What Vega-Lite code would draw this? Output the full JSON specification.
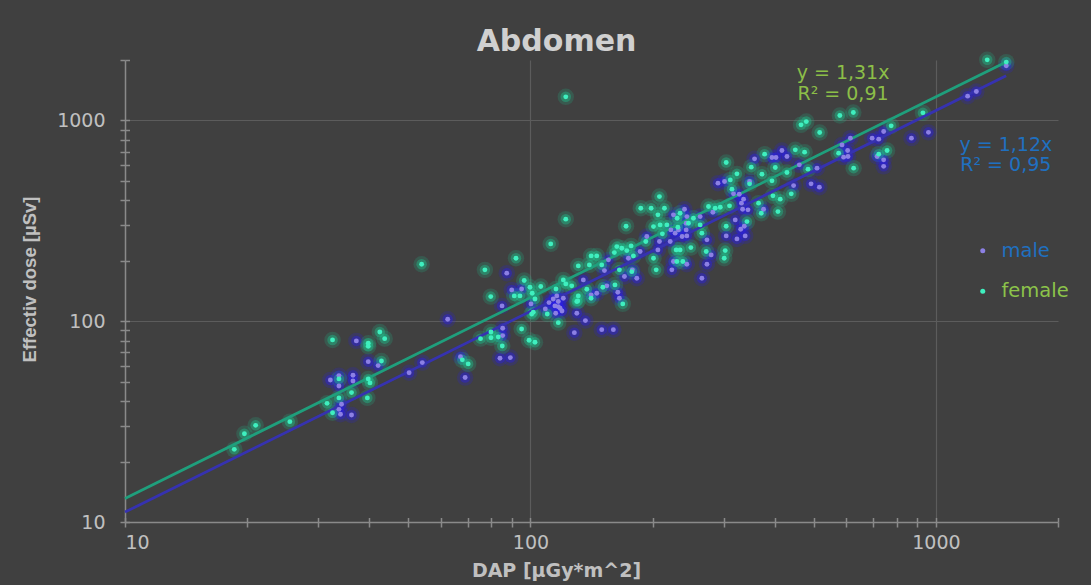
{
  "$schema": "https://vega.github.io/schema/vega-lite/v6.json",
  "width": 933,
  "height": 462,
  "autosize": "none",
  "padding": {"left": 125, "top": 60, "right": 33, "bottom": 63},
  "background": "#404040",
  "config": {"view": {"stroke": null}},
  "title": {"text": "Abdomen", "font": "DejaVu Sans", "fontSize": 30, "fontWeight": "bold", "color": "#d0d0d0", "anchor": "middle", "dx": -35, "dy": 37, "offset": 8, "baseline": "alphabetic"},
  "resolve": {"axis": {"x": "independent", "y": "independent"}},
  "datasets": {
    "points": [
      {"sex":"male","dap":37.2,"dose":79.8},{"sex":"male","dap":39.8,"dose":62.9},{"sex":"male","dap":42.1,"dose":60.1},{"sex":"male","dap":32.1,"dose":51},{"sex":"male","dap":33.7,"dose":53.6},{"sex":"male","dap":33.7,"dose":47.6},{"sex":"male","dap":36.5,"dose":53.8},{"sex":"male","dap":36.5,"dose":50.4},{"sex":"male","dap":34.2,"dose":38.6},{"sex":"male","dap":33.7,"dose":36.4},{"sex":"male","dap":34,"dose":34.4},{"sex":"male","dap":36.2,"dose":34.1},{"sex":"male","dap":50.2,"dose":55.4},{"sex":"male","dap":54.1,"dose":62.2},{"sex":"male","dap":62.5,"dose":102.3},{"sex":"male","dap":67.2,"dose":66.6},{"sex":"male","dap":69,"dose":52.4},{"sex":"male","dap":85.4,"dose":92.3},{"sex":"male","dap":85.4,"dose":84.8},{"sex":"male","dap":84.1,"dose":65.4},{"sex":"male","dap":89.2,"dose":65.9},{"sex":"male","dap":85.1,"dose":119.2},{"sex":"male","dap":100.3,"dose":122},{"sex":"male","dap":117.1,"dose":118.2},{"sex":"male","dap":130.1,"dose":109.6},{"sex":"male","dap":136.6,"dose":100.7},{"sex":"male","dap":128.3,"dose":87.7},{"sex":"male","dap":149.9,"dose":90.8},{"sex":"male","dap":160.1,"dose":90.8},{"sex":"male","dap":111.1,"dose":123.8},{"sex":"male","dap":114.9,"dose":119.2},{"sex":"male","dap":118.3,"dose":116.1},{"sex":"male","dap":115.4,"dose":109.6},{"sex":"male","dap":87.4,"dose":173.5},{"sex":"male","dap":89.9,"dose":143.2},{"sex":"male","dap":95.1,"dose":144.8},{"sex":"male","dap":116.1,"dose":133.7},{"sex":"male","dap":120.5,"dose":130.2},{"sex":"male","dap":135,"dose":160.6},{"sex":"male","dap":141.1,"dose":135.2},{"sex":"male","dap":145.7,"dose":137.9},{"sex":"male","dap":154.3,"dose":150},{"sex":"male","dap":164.2,"dose":139.5},{"sex":"male","dap":165.7,"dose":130.2},{"sex":"male","dap":152.2,"dose":178.7},{"sex":"male","dap":155.7,"dose":202.1},{"sex":"male","dap":174.4,"dose":206},{"sex":"male","dap":170.5,"dose":166.9},{"sex":"male","dap":178.4,"dose":180.2},{"sex":"male","dap":182.9,"dose":163.8},{"sex":"male","dap":186.4,"dose":222.3},{"sex":"male","dap":206.2,"dose":226.6},{"sex":"male","dap":223.2,"dose":180.2},{"sex":"male","dap":243,"dose":192.3},{"sex":"male","dap":264.7,"dose":163.8},{"sex":"male","dap":272.4,"dose":192.3},{"sex":"male","dap":279,"dose":214},{"sex":"male","dap":225.2,"dose":338.6},{"sex":"male","dap":239.8,"dose":361.4},{"sex":"male","dap":231.7,"dose":285},{"sex":"male","dap":227.4,"dose":274.5},{"sex":"male","dap":242.1,"dose":307.7},{"sex":"male","dap":242.1,"dose":285},{"sex":"male","dap":262.1,"dose":332},{"sex":"male","dap":272.4,"dose":254.2},{"sex":"male","dap":281.8,"dose":349.2},{"sex":"male","dap":290,"dose":487.1},{"sex":"male","dap":221.1,"dose":249.3},{"sex":"male","dap":208,"dose":249.3},{"sex":"male","dap":243,"dose":332},{"sex":"male","dap":222,"dose":285},{"sex":"male","dap":236.6,"dose":264},{"sex":"male","dap":243,"dose":266.1},{"sex":"male","dap":193.6,"dose":264},{"sex":"male","dap":225.2,"dose":198.2},{"sex":"male","dap":301,"dose":496.2},{"sex":"male","dap":347,"dose":496.2},{"sex":"male","dap":357,"dose":643.8},{"sex":"male","dap":394.1,"dose":653.5},{"sex":"male","dap":403.2,"dose":653.5},{"sex":"male","dap":417,"dose":707.9},{"sex":"male","dap":429.1,"dose":660.9},{"sex":"male","dap":460.3,"dose":600.9},{"sex":"male","dap":509,"dose":578.7},{"sex":"male","dap":445.6,"dose":473.8},{"sex":"male","dap":492,"dose":483.2},{"sex":"male","dap":515.8,"dose":465.2},{"sex":"male","dap":375.7,"dose":361.4},{"sex":"male","dap":316.8,"dose":430.8},{"sex":"male","dap":327.3,"dose":428.6},{"sex":"male","dap":335.4,"dose":405.4},{"sex":"male","dap":331.4,"dose":387.3},{"sex":"male","dap":333.6,"dose":361.4},{"sex":"male","dap":343.9,"dose":358.6},{"sex":"male","dap":319.9,"dose":319.7},{"sex":"male","dap":336.7,"dose":297.4},{"sex":"male","dap":330,"dose":287.3},{"sex":"male","dap":303.9,"dose":266.1},{"sex":"male","dap":323,"dose":257},{"sex":"male","dap":338.5,"dose":266.1},{"sex":"male","dap":586.7,"dose":755.4},{"sex":"male","dap":615.2,"dose":816.4},{"sex":"male","dap":605.7,"dose":707.9},{"sex":"male","dap":607,"dose":660.9},{"sex":"male","dap":592,"dose":656.4},{"sex":"male","dap":696,"dose":816.4},{"sex":"male","dap":722.6,"dose":807},{"sex":"male","dap":743.1,"dose":880.5},{"sex":"male","dap":716,"dose":660.9},{"sex":"male","dap":743.1,"dose":636.5},{"sex":"male","dap":743.1,"dose":590.7},{"sex":"male","dap":870,"dose":816.4},{"sex":"male","dap":958.4,"dose":872.4},{"sex":"male","dap":1197,"dose":1321},{"sex":"male","dap":1258,"dose":1393},{"sex":"male","dap":1491,"dose":1871},{"sex":"male","dap":117.1,"dose":125.3},{"sex":"male","dap":119.6,"dose":112.5},{"sex":"male","dap":113.8,"dose":129.1},{"sex":"male","dap":108.8,"dose":115.2},
      {"sex":"female","dap":18.6,"dose":23.0},{"sex":"female","dap":19.7,"dose":27.5},{"sex":"female","dap":21.0,"dose":30.3},{"sex":"female","dap":25.5,"dose":31.6},{"sex":"female","dap":31.5,"dose":39.0},{"sex":"female","dap":32.5,"dose":35.0},{"sex":"female","dap":33.7,"dose":41.5},{"sex":"female","dap":36.2,"dose":44.1},{"sex":"female","dap":39.6,"dose":41.5},{"sex":"female","dap":32.5,"dose":80.7},{"sex":"female","dap":39.8,"dose":77.7},{"sex":"female","dap":39.8,"dose":75.1},{"sex":"female","dap":42.5,"dose":88.4},{"sex":"female","dap":43.7,"dose":81.9},{"sex":"female","dap":42.9,"dose":63.4},{"sex":"female","dap":33.7,"dose":51.6},{"sex":"female","dap":39.8,"dose":51.6},{"sex":"female","dap":40.2,"dose":49.3},{"sex":"female","dap":67.9,"dose":64.2},{"sex":"female","dap":70.2,"dose":61.3},{"sex":"female","dap":75.3,"dose":81.9},{"sex":"female","dap":79.9,"dose":88.4},{"sex":"female","dap":79.9,"dose":82.8},{"sex":"female","dap":83.3,"dose":83.5},{"sex":"female","dap":85.2,"dose":75.3},{"sex":"female","dap":95.1,"dose":91.5},{"sex":"female","dap":99.2,"dose":80.4},{"sex":"female","dap":102.6,"dose":78.6},{"sex":"female","dap":100.7,"dose":108.7},{"sex":"female","dap":110,"dose":108.7},{"sex":"female","dap":117.1,"dose":98.4},{"sex":"female","dap":130.8,"dose":126.2},{"sex":"female","dap":53.9,"dose":192.3},{"sex":"female","dap":77.2,"dose":180.2},{"sex":"female","dap":92.1,"dose":206},{"sex":"female","dap":112.2,"dose":242.7},{"sex":"female","dap":122.2,"dose":322.3},{"sex":"female","dap":122.2,"dose":1311},{"sex":"female","dap":79.8,"dose":132.6},{"sex":"female","dap":91.2,"dose":133.7},{"sex":"female","dap":94.2,"dose":133.7},{"sex":"female","dap":96.5,"dose":159.4},{"sex":"female","dap":99.7,"dose":147.7},{"sex":"female","dap":101,"dose":137.9},{"sex":"female","dap":102.6,"dose":129.1},{"sex":"female","dap":106,"dose":148.8},{"sex":"female","dap":101.6,"dose":110.9},{"sex":"female","dap":115.6,"dose":144.8},{"sex":"female","dap":120.5,"dose":160.6},{"sex":"female","dap":122.2,"dose":153.4},{"sex":"female","dap":126.4,"dose":150},{"sex":"female","dap":131.2,"dose":188.6},{"sex":"female","dap":141.1,"dose":211.5},{"sex":"female","dap":145.7,"dose":211.5},{"sex":"female","dap":139.7,"dose":190.8},{"sex":"female","dap":131.2,"dose":133.7},{"sex":"female","dap":130.1,"dose":125.3},{"sex":"female","dap":137.7,"dose":144.3},{"sex":"female","dap":141.1,"dose":130.2},{"sex":"female","dap":150.8,"dose":147.7},{"sex":"female","dap":161.6,"dose":151.7},{"sex":"female","dap":168.9,"dose":122},{"sex":"female","dap":149.9,"dose":190.8},{"sex":"female","dap":161,"dose":219.7},{"sex":"female","dap":163.3,"dose":235.3},{"sex":"female","dap":168,"dose":231.1},{"sex":"female","dap":172.8,"dose":224.8},{"sex":"female","dap":177.1,"dose":237.2},{"sex":"female","dap":179.4,"dose":211.5},{"sex":"female","dap":177.8,"dose":176.6},{"sex":"female","dap":172.1,"dose":297.4},{"sex":"female","dap":192.5,"dose":249.3},{"sex":"female","dap":201.1,"dose":206},{"sex":"female","dap":204.2,"dose":180.2},{"sex":"female","dap":229.6,"dose":198.2},{"sex":"female","dap":237.6,"dose":198.2},{"sex":"female","dap":248.6,"dose":232.7},{"sex":"female","dap":228.7,"dose":226.6},{"sex":"female","dap":233.9,"dose":226.6},{"sex":"female","dap":271.3,"dose":222.3},{"sex":"female","dap":187.1,"dose":365.6},{"sex":"female","dap":198.4,"dose":365.6},{"sex":"female","dap":208,"dose":417.6},{"sex":"female","dap":214,"dose":365.6},{"sex":"female","dap":206.2,"dose":338.6},{"sex":"female","dap":201.1,"dose":296},{"sex":"female","dap":208.8,"dose":301.8},{"sex":"female","dap":217,"dose":301.8},{"sex":"female","dap":233.9,"dose":345.2},{"sex":"female","dap":245.3,"dose":307.7},{"sex":"female","dap":252.3,"dose":326},{"sex":"female","dap":264.7,"dose":274.5},{"sex":"female","dap":274.8,"dose":372.4},{"sex":"female","dap":285.4,"dose":365.6},{"sex":"female","dap":211.5,"dose":272.3},{"sex":"female","dap":230,"dose":326},{"sex":"female","dap":262.1,"dose":301.8},{"sex":"female","dap":231,"dose":294},{"sex":"female","dap":302.2,"dose":224.8},{"sex":"female","dap":300.5,"dose":206},{"sex":"female","dap":464.7,"dose":950.8},{"sex":"female","dap":478.9,"dose":987},{"sex":"female","dap":516.7,"dose":870.4},{"sex":"female","dap":303.9,"dose":616.9},{"sex":"female","dap":323,"dose":542},{"sex":"female","dap":311,"dose":505.8},{"sex":"female","dap":347,"dose":483.2},{"sex":"female","dap":378,"dose":679.5},{"sex":"female","dap":449.9,"dose":713.8},{"sex":"female","dap":474.3,"dose":695.1},{"sex":"female","dap":350.4,"dose":585.4},{"sex":"female","dap":372.3,"dose":540.1},{"sex":"female","dap":401.6,"dose":582.7},{"sex":"female","dap":429.1,"dose":550.1},{"sex":"female","dap":483.6,"dose":572.1},{"sex":"female","dap":394.1,"dose":500.1},{"sex":"female","dap":439.7,"dose":430.8},{"sex":"female","dap":413,"dose":405.4},{"sex":"female","dap":396.3,"dose":421.1},{"sex":"female","dap":365.2,"dose":387.3},{"sex":"female","dap":370.8,"dose":345.2},{"sex":"female","dap":407.7,"dose":351.6},{"sex":"female","dap":314,"dose":454.7},{"sex":"female","dap":309.7,"dose":375.4},{"sex":"female","dap":293.8,"dose":369.8},{"sex":"female","dap":303.9,"dose":297.4},{"sex":"female","dap":341.9,"dose":313.5},{"sex":"female","dap":575.4,"dose":687.3},{"sex":"female","dap":626.6,"dose":578.7},{"sex":"female","dap":775.5,"dose":940},{"sex":"female","dap":722.6,"dose":679.5},{"sex":"female","dap":757.8,"dose":707.9},{"sex":"female","dap":1338,"dose":2004},{"sex":"female","dap":1491,"dose":1952},{"sex":"female","dap":928.7,"dose":1091},{"sex":"female","dap":579.4,"dose":1058},{"sex":"female","dap":625.6,"dose":1095},{"sex":"female","dap":165.7,"dose":180.2}
    ],
    "trend": [
      {"sex":"male","dap":10,"dose":11.2},{"sex":"male","dap":1490,"dose":1669},
      {"sex":"female","dap":10,"dose":13.1},{"sex":"female","dap":1490,"dose":1952}
    ]
  },
  "layer": [
    {
      "data": {"name": "points"},
      "mark": {"type": "circle", "size": 270, "opacity": 0.2},
      "encoding": {
        "x": {"field": "dap", "type": "quantitative",
          "scale": {"type": "log", "domain": [10, 2000], "nice": false},
          "axis": {
            "orient": "bottom",
            "values": [10,20,30,40,50,60,70,80,90,100,200,300,400,500,600,700,800,900,1000,2000],
            "format": "d",
            "labelExpr": "indexof([10,100,1000], datum.value) >= 0 ? datum.label : ''",
            "labelFont": "DejaVu Sans", "labelFontSize": 19, "labelColor": "#c0c0c0", "labelPadding": 6,
            "tickSize": 5, "tickColor": "#8a8a8a", "tickWidth": 1.5,
            "domainColor": "#8a8a8a", "domainWidth": 1.5,
            "grid": true, "gridColor": "#5c5c5c", "gridWidth": 1.2,
            "gridOpacity": {"condition": {"test": "datum.value === 100 || datum.value === 1000", "value": 1}, "value": 0},
            "title": "DAP [µGy*m^2]", "titleFont": "DejaVu Sans", "titleFontSize": 19, "titleFontWeight": "bold", "titleColor": "#c0c0c0",
            "titleX": 431, "titleY": 54, "titleAlign": "center", "titleBaseline": "alphabetic"
          }
        },
        "y": {"field": "dose", "type": "quantitative",
          "scale": {"type": "log", "domain": [10, 2000], "nice": false},
          "axis": {
            "orient": "left",
            "values": [10,20,30,40,50,60,70,80,90,100,200,300,400,500,600,700,800,900,1000,2000],
            "format": "d",
            "labelExpr": "indexof([10,100,1000], datum.value) >= 0 ? datum.label : ''",
            "labelFont": "DejaVu Sans", "labelFontSize": 19, "labelColor": "#c0c0c0", "labelPadding": 15,
            "tickSize": 5, "tickColor": "#8a8a8a", "tickWidth": 1.5,
            "domainColor": "#8a8a8a", "domainWidth": 1.5,
            "grid": true, "gridColor": "#5c5c5c", "gridWidth": 1.2,
            "gridOpacity": {"condition": {"test": "datum.value === 100 || datum.value === 1000", "value": 1}, "value": 0},
            "title": "Effectiv dose [µSv]", "titleFont": "Liberation Sans", "titleFontSize": 18.5, "titleFontWeight": "bold", "titleColor": "#c0c0c0",
            "titleAngle": 270, "titleX": -96, "titleY": 219, "titleAlign": "center", "titleBaseline": "middle"
          }
        },
        "fill": {"condition": {"test": "datum.sex === 'male'", "value": "#2a20e8"}, "value": "#1fc08c"}
      }
    },
    {
      "data": {"name": "points"},
      "mark": {"type": "circle", "size": 110, "opacity": 0.42},
      "encoding": {
        "x": {"field": "dap", "type": "quantitative", "scale": {"type": "log", "domain": [10, 2000], "nice": false}, "axis": null},
        "y": {"field": "dose", "type": "quantitative", "scale": {"type": "log", "domain": [10, 2000], "nice": false}, "axis": null},
        "fill": {"condition": {"test": "datum.sex === 'male'", "value": "#2a20e8"}, "value": "#1fc08c"}
      }
    },
    {
      "data": {"name": "trend"},
      "mark": {"type": "line", "strokeWidth": 2.8},
      "encoding": {
        "x": {"field": "dap", "type": "quantitative", "scale": {"type": "log", "domain": [10, 2000], "nice": false},
          "axis": {"orient": "bottom", "values": [10,20,30,40,50,60,70,80,90,100,200,300,400,500,600,700,800,900,1000,2000],
            "labels": false, "domain": false, "grid": false, "title": null,
            "tickSize": -4.5, "tickColor": "#8a8a8a", "tickWidth": 1.5}},
        "y": {"field": "dose", "type": "quantitative", "scale": {"type": "log", "domain": [10, 2000], "nice": false},
          "axis": {"orient": "left", "values": [10,20,30,40,50,60,70,80,90,100,200,300,400,500,600,700,800,900,1000,2000],
            "labels": false, "domain": false, "grid": false, "title": null,
            "tickSize": -4.5, "tickColor": "#8a8a8a", "tickWidth": 1.5}},
        "detail": {"field": "sex"},
        "stroke": {"condition": {"test": "datum.sex === 'male'", "value": "#3632b0"}, "value": "#1f9f7c"}
      }
    },
    {
      "data": {"name": "points"},
      "mark": {"type": "point", "filled": true, "shape": "circle", "size": 24, "opacity": 1},
      "encoding": {
        "x": {"field": "dap", "type": "quantitative", "scale": {"type": "log", "domain": [10, 2000], "nice": false}, "axis": null},
        "y": {"field": "dose", "type": "quantitative", "scale": {"type": "log", "domain": [10, 2000], "nice": false}, "axis": null},
        "color": {"field": "sex", "type": "nominal",
          "scale": {"domain": ["male", "female"], "range": ["#8c80e4", "#3fefbf"]},
          "legend": {
            "title": null, "orient": "none", "direction": "vertical", "legendX": 848, "legendY": 181, "padding": 0,
            "labelFont": "DejaVu Sans", "labelFontSize": 19.5, "labelOffset": 9, "rowPadding": 19.5,
            "labelColor": {"expr": "datum.value === 'male' ? '#1f70c0' : '#8cc44a'"},
            "symbolSize": 25, "symbolType": "circle", "symbolStrokeWidth": 0, "labelLimit": 200
          }
        }
      }
    },
    {
      "data": {"values": [{}]},
      "mark": {"type": "text", "text": ["y = 1,31x", "R² = 0,91"], "font": "DejaVu Sans", "fontSize": 19, "lineHeight": 20.5, "align": "center", "baseline": "alphabetic", "color": "#8cbe48"},
      "encoding": {
        "x": {"datum": 590, "type": "quantitative", "scale": {"type": "log", "domain": [10, 2000], "nice": false}, "axis": null},
        "y": {"datum": 1600, "type": "quantitative", "scale": {"type": "log", "domain": [10, 2000], "nice": false}, "axis": null}
      }
    },
    {
      "data": {"values": [{}]},
      "mark": {"type": "text", "text": ["y = 1,12x", "R² = 0,95"], "font": "DejaVu Sans", "fontSize": 19, "lineHeight": 20.5, "align": "center", "baseline": "alphabetic", "color": "#1f70c0"},
      "encoding": {
        "x": {"datum": 1487, "type": "quantitative", "scale": {"type": "log", "domain": [10, 2000], "nice": false}, "axis": null},
        "y": {"datum": 708, "type": "quantitative", "scale": {"type": "log", "domain": [10, 2000], "nice": false}, "axis": null}
      }
    }
  ]
}
